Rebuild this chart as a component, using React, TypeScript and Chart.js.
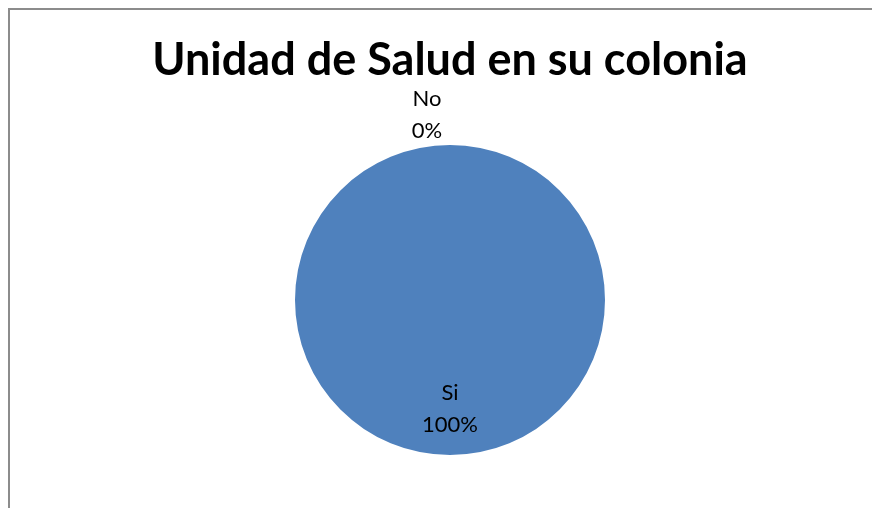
import React, { useEffect, useRef } from "react";
import { Chart, registerables } from "chart.js";

Chart.register(...registerables);

const TITLE = "Unidad de Salud en su colonia";
const CATEGORIES = ["Si", "No"];
const VALUES = [100, 0];
const PERCENT_LABELS = ["100%", "0%"];
const COLORS = ["#4F81BD", "#C0504D"];

const labelPlugin = {
  id: "customLabels",
  afterDraw(chart: any) {
    const ctx = chart.ctx;
    ctx.save();
    // title
    ctx.font = "bold 45px Lato";
    ctx.fillStyle = "#000";
    ctx.textAlign = "center";
    ctx.textBaseline = "alphabetic";
    ctx.fillText(TITLE, 440, 65);

    const meta = chart.getDatasetMeta(0);
    ctx.font = "22px Lato";
    ctx.fillStyle = "#000";
    meta.data.forEach((arc: any, i: number) => {
      const { x, y, startAngle, endAngle, outerRadius } = arc.getProps(
        ["x", "y", "startAngle", "endAngle", "outerRadius"],
        true
      );
      const mid = (startAngle + endAngle) / 2;
      let lx, ly;
      if (VALUES[i] === 0) {
        lx = x + Math.cos(mid) * (outerRadius + 30) - 23;
        ly = y + Math.sin(mid) * (outerRadius + 30);
      } else {
        lx = x + Math.cos(mid) * outerRadius * 0.7;
        ly = y + Math.sin(mid) * outerRadius * 0.7;
      }
      ctx.textBaseline = "middle";
      ctx.fillText(CATEGORIES[i], lx, ly - 16);
      ctx.fillText(PERCENT_LABELS[i], lx, ly + 16);
    });
    ctx.restore();
  },
};

export default function App() {
  const ref = useRef<HTMLCanvasElement>(null);
  useEffect(() => {
    if (!ref.current) return;
    const chart = new Chart(ref.current, {
      type: "pie",
      data: {
        labels: CATEGORIES,
        datasets: [
          {
            data: VALUES,
            backgroundColor: COLORS,
            borderWidth: 0,
          },
        ],
      },
      options: {
        animation: false,
        responsive: false,
        maintainAspectRatio: false,
        layout: { padding: { top: 135, bottom: 53, left: 10, right: 0 } },
        plugins: {
          legend: { display: false },
          title: { display: false },
          tooltip: { enabled: false },
        },
      },
      plugins: [labelPlugin],
    });
    return () => chart.destroy();
  }, []);
  return (
    <div
      style={{
        width: 870,
        height: 498,
        borderLeft: "2px solid #8c8c8c",
        borderTop: "2px solid #8c8c8c",
        background: "#fff",
      }}
    >
      <canvas ref={ref} width={870} height={498} style={{ display: "block" }} />
    </div>
  );
}
